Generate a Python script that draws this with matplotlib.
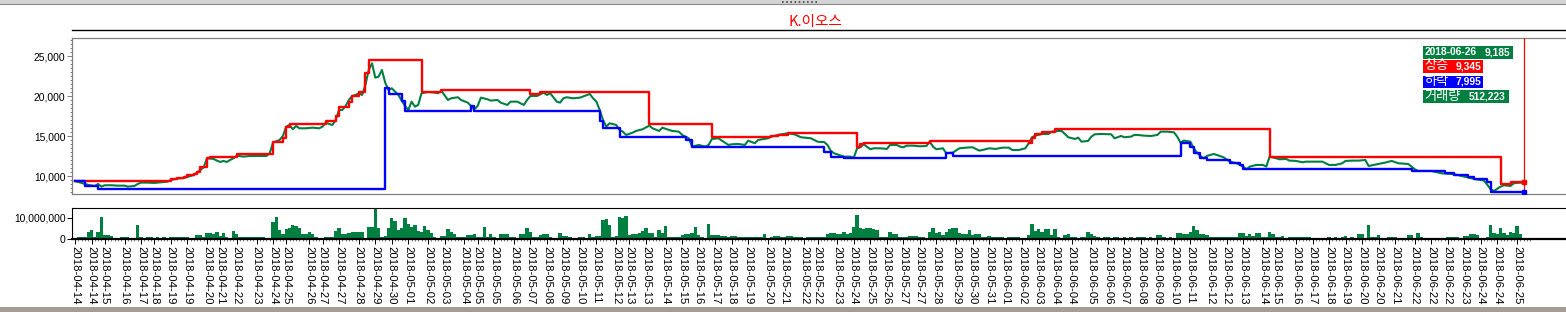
import matplotlib.pyplot as plt
from matplotlib.lines import Line2D
from matplotlib.patches import Rectangle
from matplotlib.ticker import FixedLocator, MultipleLocator, FuncFormatter

plt.rcParams['font.family'] = ['Liberation Sans', 'Noto Sans CJK KR', 'DejaVu Sans']

# ----------------------------------------------------
# data (bar index = one candle)
# ----------------------------------------------------
title = 'K.이오스'

close_idx = [0, 4, 6, 7, 8, 9, 11, 13, 15, 16, 18, 19, 20, 22, 24, 26, 28, 29, 31, 33,
             35, 36, 38, 39, 40, 42, 43, 44, 45, 46, 47, 48, 49, 51, 53, 56, 58, 59, 60, 62,
             63, 64, 65, 66, 67, 68, 70, 72, 74, 75, 76, 77, 78, 79, 80, 81, 82, 83, 84, 85,
             86, 87, 88, 89, 90, 91, 92, 93, 94, 95, 96, 97, 98, 99, 100, 101, 102, 103, 104, 105,
             107, 109, 110, 111, 113, 114, 116, 117, 119, 120, 121, 122, 123, 125, 126, 128, 129, 131, 132, 134,
             136, 137, 138, 140, 142, 143, 144, 146, 147, 148, 149, 151, 153, 156, 157, 158, 159, 160, 161, 162,
             164, 165, 166, 167, 169, 170, 172, 174, 175, 177, 178, 180, 181, 183, 184, 186, 187, 189, 191, 192,
             193, 195, 196, 198, 199, 201, 203, 204, 206, 207, 210, 211, 213, 216, 218, 220, 223, 225, 226, 227,
             228, 229, 230, 233, 235, 236, 237, 238, 239, 241, 242, 244, 246, 247, 249, 250, 251, 252, 254, 256,
             258, 259, 260, 261, 263, 264, 266, 268, 270, 272, 274, 275, 277, 279, 281, 283, 284, 286, 288, 289,
             290, 291, 293, 295, 296, 298, 299, 301, 303, 304, 305, 307, 308, 309, 311, 314, 315, 317, 318, 320,
             321, 322, 324, 326, 328, 329, 331, 333, 334, 335, 336, 338, 339, 340, 341, 342, 343, 345, 346, 348,
             350, 352, 354, 355, 356, 358, 360, 361, 362, 364, 365, 367, 368, 370, 372, 373, 375, 378, 380, 382,
             384, 385, 387, 389, 391, 392, 394, 397, 399, 401, 404, 406, 407, 411, 414, 418, 421, 424, 427, 429,
             430, 432, 433, 435, 436, 438, 439]
close_val = [9420, 8920, 8790, 9040, 8710, 8880, 8880, 8830, 8830, 8710, 8790, 9040, 9210, 9210, 9170, 9250, 9330, 9540, 9710, 9790,
             10040, 10170, 10790, 11130, 12250, 12170, 11960, 11790, 11920, 11790, 12040, 12250, 12580, 12460, 12540, 12540, 12540, 12880, 14210, 14540,
             15040, 16210, 16420, 15880, 16290, 16000, 16000, 16080, 16000, 16210, 16710, 16540, 16420, 17040, 18290, 18290, 18790, 19540, 20040, 20170,
             20380, 20170, 21420, 23290, 24130, 22330, 22460, 23290, 21710, 20790, 21000, 20580, 20170, 19460, 18790, 18290, 19330, 18710, 18920, 20380,
             20540, 20460, 20380, 20710, 19540, 19750, 19880, 19540, 19210, 18790, 18380, 18790, 19830, 19630, 19460, 19540, 19210, 18920, 19330, 19330,
             18920, 19540, 20040, 20040, 20460, 20170, 20380, 19330, 19210, 19750, 19880, 19750, 19830, 20290, 19750, 19330, 18290, 17040, 16210, 16630,
             16420, 15790, 15580, 15170, 15460, 15670, 15880, 16330, 16000, 15670, 16080, 15790, 15670, 15580, 15170, 14750, 13710, 13920, 13710, 13920,
             14670, 14750, 14460, 13920, 14000, 14040, 13920, 14460, 14130, 14540, 14750, 14960, 15170, 15380, 15250, 14880, 14750, 14330, 14290, 14290,
             13920, 13210, 12880, 12460, 12460, 12330, 13500, 13630, 14000, 13380, 13500, 13500, 13420, 13920, 13920, 13710, 13630, 13830, 13830, 13750,
             13790, 14330, 13710, 13380, 13500, 12880, 12960, 13500, 13580, 13630, 13210, 13290, 13500, 13420, 13580, 13580, 13290, 13290, 13500, 14130,
             14880, 15080, 15290, 15290, 15580, 15670, 15670, 14880, 14670, 14830, 14330, 14420, 14960, 15250, 15290, 15250, 14750, 15040, 14880, 14960,
             15170, 15170, 15080, 15040, 15170, 15580, 15580, 15500, 14960, 14210, 14460, 14330, 13500, 12960, 12540, 12250, 12540, 12790, 12670, 12380,
             11830, 11630, 11210, 10880, 11210, 11420, 11420, 11210, 12460, 12250, 12130, 12170, 11960, 11920, 11750, 11830, 11830, 11830, 11420, 11420,
             11630, 11920, 11960, 11960, 12040, 11290, 11460, 11710, 11920, 11630, 11540, 10880, 10670, 10670, 10380, 10250, 9960, 9670, 9460, 8380,
             8170, 8710, 8880, 8790, 9130, 9210, 9185]

# upper band (상승) and lower band (하락): bar where a new level starts, level
up_idx = [0, 29, 31, 33, 34, 36, 37, 38, 40, 41, 49, 60, 63, 64, 65, 76, 79, 80, 83, 84,
          86, 88, 89, 105, 111, 138, 141, 174, 193, 211, 213, 216, 237, 238, 239, 259, 289, 290, 291, 293,
          297, 362, 432, 435, 437, 439]
up_val = [9420, 9670, 9830, 9960, 10130, 10290, 10540, 11210, 12330, 12420, 12750, 14290, 14750, 16210, 16500, 16960, 17540, 18630, 19330, 20040,
          20540, 22880, 24500, 20500, 20790, 20250, 20500, 16580, 14920, 15040, 15170, 15420, 13710, 14000, 14210, 14460, 14130, 14750, 15290, 15580,
          15880, 12460, 9040, 9250, 9345, 9345]

down_idx = [0, 3, 7, 94, 95, 99, 100, 120, 121, 159, 160, 165, 185, 187, 227, 229, 233, 264, 266, 335,
            338, 339, 341, 343, 350, 353, 354, 405, 415, 418, 422, 424, 428, 429, 439]
down_val = [9420, 8750, 8460, 21080, 20250, 19460, 18210, 18790, 18210, 16960, 16080, 14960, 14540, 13630, 13080, 12460, 12250, 12880, 12580, 14210,
            13710, 12880, 12250, 12080, 11630, 11420, 10880, 10670, 10380, 10170, 9960, 9630, 9330, 8050, 7995]

# volume, millions (0 = no volume)
volume_m = [0, 1.2, 1.2, 0.9, 3.2, 4.3, 1.2, 3.2, 10.5, 2.0, 2.0, 1.7, 0, 0.5, 1.2, 0.9, 0.9, 0, 0.5, 6.6,
            1.2, 0.5, 0.9, 0.9, 0.5, 0.9, 0, 0.9, 0.5, 1.2, 1.1, 1.1, 1.1, 1.1, 1.1, 0.5, 0, 2.0, 2.0, 1.2,
            2.8, 2.8, 2.5, 3.2, 1.7, 3.0, 1.2, 0, 4.1, 2.5, 1.2, 0.9, 0.9, 0.9, 1.2, 0.9, 1.2, 0.9, 0.5, 0,
            8.2, 10.5, 4.3, 2.3, 4.6, 5.4, 6.6, 6.2, 5.1, 2.3, 2.3, 3.2, 2.3, 1.2, 0.5, 0, 1.2, 1.2, 1.2, 3.8,
            5.1, 2.3, 2.3, 3.1, 3.5, 3.2, 3.5, 3.2, 0, 5.9, 5.9, 14.8, 5.5, 1.2, 1.7, 5.1, 10.0, 8.5, 4.3, 5.1,
            10.0, 7.4, 5.9, 6.9, 3.9, 3.2, 6.3, 4.3, 2.8, 1.2, 0, 1.7, 1.7, 4.6, 3.5, 2.3, 1.2, 1.2, 1.2, 2.0,
            2.0, 2.3, 1.2, 1.2, 5.9, 1.2, 2.3, 1.2, 0, 2.5, 2.5, 2.5, 0.9, 0.9, 0, 2.5, 2.5, 5.1, 3.5, 1.2,
            1.2, 2.0, 2.3, 2.3, 1.2, 0, 0, 2.8, 1.7, 1.7, 1.2, 0, 0, 0.9, 0.9, 0, 2.5, 1.2, 1.7, 1.7,
            8.9, 9.4, 6.6, 1.2, 1.7, 10.5, 10.2, 10.8, 2.0, 2.3, 2.3, 3.1, 3.8, 5.1, 2.8, 2.8, 0.9, 4.3, 2.8, 6.3,
            1.2, 1.1, 1.1, 1.1, 2.0, 2.5, 2.5, 2.8, 5.9, 2.0, 1.2, 0, 7.4, 2.0, 2.0, 2.0, 1.4, 1.4, 1.2, 1.7,
            1.7, 0.9, 0.9, 1.2, 1.2, 1.2, 0.9, 1.2, 1.2, 2.3, 0, 0.9, 1.7, 1.7, 1.2, 1.2, 1.7, 1.7, 1.2, 1.2,
            0.9, 0, 1.2, 1.2, 1.2, 1.2, 1.2, 1.2, 2.3, 3.1, 3.1, 2.5, 2.5, 3.2, 2.3, 2.8, 5.9, 11.5, 5.1, 4.6,
            5.1, 5.4, 4.6, 4.3, 0.9, 0.9, 1.2, 3.2, 2.6, 2.6, 1.2, 0.9, 0.9, 1.4, 1.5, 1.5, 1.2, 1.2, 0, 3.5,
            5.5, 2.8, 3.5, 2.0, 3.2, 4.8, 5.5, 5.1, 2.8, 2.3, 2.3, 4.2, 2.0, 2.3, 2.3, 1.2, 1.2, 1.7, 1.2, 1.2,
            1.2, 0.9, 0, 1.2, 1.2, 1.2, 1.2, 0, 0, 2.0, 7.1, 4.0, 4.6, 3.5, 4.6, 4.6, 2.0, 4.8, 1.2, 0,
            2.0, 2.5, 1.2, 1.2, 0, 1.2, 1.2, 3.5, 2.5, 1.7, 0.9, 0, 1.2, 1.2, 0, 1.2, 0.9, 0, 0.9, 0,
            0.9, 0, 0.9, 1.2, 0.9, 0, 0.9, 0, 2.0, 2.0, 1.1, 0, 1.1, 0, 2.8, 2.8, 2.3, 2.3, 3.5, 6.2,
            4.3, 2.3, 2.3, 2.0, 1.2, 1.2, 1.2, 1.2, 1.2, 1.2, 0.9, 0.9, 0.9, 2.8, 2.8, 1.7, 2.3, 1.5, 2.8, 2.8,
            1.2, 1.2, 3.2, 2.5, 1.2, 1.2, 1.7, 0, 1.1, 1.1, 0.9, 0.9, 1.2, 1.2, 0.9, 0, 0, 0, 0, 0,
            0.9, 0, 0.9, 0, 0.9, 1.5, 0, 0.9, 0, 2.3, 2.3, 0, 6.6, 1.2, 0.9, 2.0, 0, 0, 1.2, 0.9,
            0.9, 0, 0, 0, 2.0, 2.0, 0, 2.8, 0.9, 0, 0, 0, 0, 0, 0, 0, 1.2, 1.2, 0.9, 0.9,
            0, 1.5, 1.5, 2.3, 2.3, 2.0, 0, 0, 0.9, 6.9, 2.8, 2.3, 5.1, 3.1, 2.0, 3.2, 3.1, 6.2, 2.3, 0.51]

tick_idx = [0, 5, 9, 15, 20, 24, 29, 34, 40, 44, 49, 55, 60, 64, 71, 75, 80, 86, 91, 96, 101,
            107, 112, 118, 122, 127, 133, 138, 143, 148, 153, 158, 164, 168, 173, 179, 184, 189, 194, 199, 204, 210, 215, 221,
            225, 231, 236, 241, 246, 251, 256, 261, 267, 272, 277, 282, 287, 292, 297, 302, 308, 313, 318, 323, 328, 333, 338, 344,
            349, 354, 360, 364, 370, 375, 380, 385, 390, 395, 400, 406, 411, 416, 421, 426, 431, 437]
tick_dates = ['04-14', '04-14', '04-15', '04-16', '04-17', '04-18', '04-19', '04-19', '04-20', '04-21', '04-22',
              '04-23', '04-24', '04-25', '04-26', '04-27', '04-27', '04-28', '04-29', '04-30', '05-01',
              '05-02', '05-03', '05-04', '05-05', '05-05', '05-06', '05-07', '05-08', '05-09', '05-10', '05-11',
              '05-12', '05-13', '05-13', '05-14', '05-15', '05-16', '05-17', '05-18', '05-19', '05-20', '05-21', '05-22',
              '05-22', '05-23', '05-24', '05-25', '05-26', '05-27', '05-27', '05-28', '05-29', '05-30', '05-31', '06-01',
              '06-02', '06-03', '06-04', '06-04', '06-05', '06-06', '06-07', '06-08', '06-09', '06-10', '06-11', '06-12',
              '06-12', '06-13', '06-14', '06-15', '06-16', '06-17', '06-18', '06-19', '06-20', '06-20', '06-21', '06-22',
              '06-22', '06-22', '06-23', '06-24', '06-24', '06-25']
tick_dates = ['2018-' + d for d in tick_dates]

last_date = '2018-06-26'
last_close = 9185
last_up = 9345
last_down = 7995
last_volume = 512223

GREEN = '#008040'
RED = '#ff0000'
BLUE = '#0000ff'

# ----------------------------------------------------
# figure, laid out in pixels
# ----------------------------------------------------
W, H = 1566, 312
fig = plt.figure(figsize=(W / 100, H / 100), dpi=100)


def fx(px):
    return px / W


def fy(py):
    return 1 - py / H


n = len(volume_m)
last = n - 1
x_left = -0.91
x_right = x_left + (W - 72) / 3.3

# window chrome
fig.add_artist(Rectangle((0, fy(4.5)), 1, 4.5 / H, transform=fig.transFigure,
                         facecolor='#d4d4d4', edgecolor='none'))
fig.add_artist(Line2D([0, 1], [fy(4.2)] * 2, color='#8a8a8a', lw=0.8))
fig.add_artist(Line2D([fx(782), fx(818)], [fy(1.6)] * 2, color='#444444', lw=1.2,
                      linestyle=(0, (1, 1.5))))
fig.add_artist(Rectangle((0, 0), 1, 5.5 / H, transform=fig.transFigure,
                         facecolor='#a59d8f', edgecolor='none'))

# title + rule
fig.text(fx(815), fy(22), title, color=RED, fontsize=10.5, ha='center', va='center',
         family=['Noto Sans CJK KR', 'DejaVu Sans'])
fig.add_artist(Line2D([fx(72), 1], [fy(30.3)] * 2, color='black', lw=1.0))

# --- price panel ---
ax = fig.add_axes([fx(72), fy(194), (W - 72) / W, (194 - 38.3) / H])
ax.plot(close_idx, close_val, color=GREEN, lw=1.5, zorder=2)
ax.step(up_idx, up_val, where='post', color=RED, lw=1.7, zorder=3)
ax.step(down_idx, down_val, where='post', color=BLUE, lw=1.7, zorder=4)
ax.axvline(last, color=RED, lw=0.9, zorder=5)
ax.plot(last, last_up, 's', color=RED, ms=3.2, zorder=6)
ax.plot(last, last_down, 's', color=BLUE, ms=3.2, zorder=6)

ax.set_xlim(x_left, x_right)
ax.set_ylim(7787, 27250)
ax.set_xticks([])
ax.yaxis.set_major_locator(MultipleLocator(5000))
ax.yaxis.set_minor_locator(MultipleLocator(500))
ax.yaxis.set_major_formatter(FuncFormatter(lambda v, p: f'{v:,.0f}'))
ax.tick_params(axis='y', which='major', length=3.6, width=0.7, color='#808080',
               pad=1, labelsize=7.4, labelcolor='black')
ax.tick_params(axis='y', which='minor', length=1.7, width=0.7, color='#808080')
for side in ['left', 'top', 'bottom']:
    ax.spines[side].set_color('#808080')
    ax.spines[side].set_linewidth(0.9)
ax.spines['right'].set_visible(False)

# legend boxes (top right)
rows = [
    (last_date, f'{last_close:,}', GREEN, 45.7, 59.0, 1513, 1485, 7.4),
    ('상승', f'{last_up:,}', RED, 60.0, 72.7, 1483, 1456, 9.5),
    ('하락', f'{last_down:,}', BLUE, 75.7, 88.3, 1483, 1456, 9.5),
    ('거래량', f'{last_volume:,}', GREEN, 90.0, 103.3, 1509, 1469, 9.5),
]
for label, value, colr, y0, y1, x1, xv, lsize in rows:
    fig.add_artist(Rectangle((fx(1423), fy(y1)), (x1 - 1423) / W, (y1 - y0) / H,
                             transform=fig.transFigure, facecolor=colr, edgecolor='none'))
    yc = fy((y0 + y1) / 2)
    fig.text(fx(1424.5), yc, label, color='white', fontsize=lsize, ha='left', va='center',
             fontweight='bold' if lsize < 9 else 'normal')
    fig.text(fx(xv), yc, value, color='white', fontsize=7.4, ha='left', va='center',
             fontweight='bold')

# --- volume panel ---
vax = fig.add_axes([fx(72), fy(239.3), (W - 72) / W, (239.3 - 207.7) / H])
vols = [v * 1e6 for v in volume_m]
vax.bar(range(n), vols, width=1.0, color=GREEN, linewidth=0)
zero_idx = [i for i, v in enumerate(volume_m) if v == 0]
vax.bar(zero_idx, [3.5e5] * len(zero_idx), width=1.0, color='#1f64ff', linewidth=0)

vax.set_xlim(x_left, x_right)
vax.set_ylim(0, 14.8e6)
vax.yaxis.set_major_locator(FixedLocator([0, 10e6]))
vax.yaxis.set_major_formatter(FuncFormatter(lambda v, p: f'{v:,.0f}'))
vax.tick_params(axis='y', length=3.6, width=0.7, pad=1, labelsize=7.4)
vax.xaxis.set_major_locator(FixedLocator(tick_idx))
vax.xaxis.set_minor_locator(FixedLocator(list(range(n + 2))))
vax.set_xticklabels(tick_dates, rotation=270, fontsize=8.2)
vax.tick_params(axis='x', which='major', length=3.6, width=0.7, pad=1)
vax.tick_params(axis='x', which='minor', length=1.6, width=0.6, color='#666666')
vax.spines['right'].set_visible(False)
vax.spines['left'].set_linewidth(0.8)
vax.spines['top'].set_linewidth(0.8)
vax.spines['bottom'].set_linewidth(1.6)

fig.savefig('out.png', dpi=100)
